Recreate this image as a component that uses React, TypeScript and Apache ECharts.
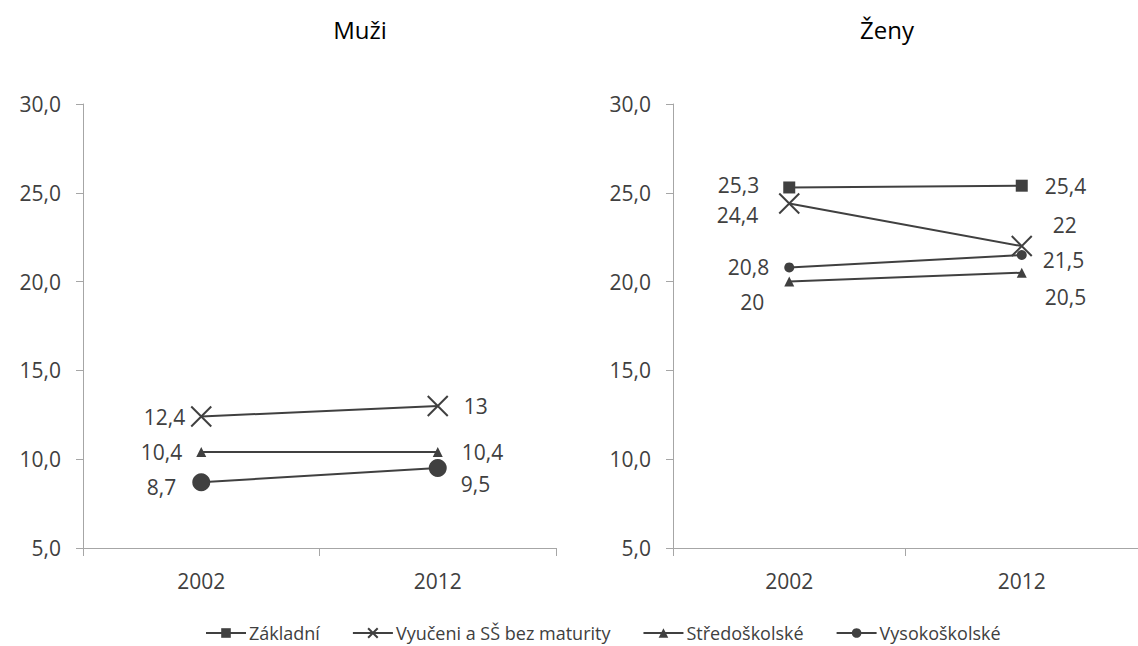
import React, { useEffect, useRef } from "react";
import * as echarts from "echarts";

const years = ["2002", "2012"];
const yTicks = { min: 5, max: 30, interval: 5 };
const seriesNames = ["Základní", "Vyučeni a SŠ bez maturity", "Středoškolské", "Vysokoškolské"];
const panelTitles = ["Muži", "Ženy"];

const menVyuceni = [12.4, 13];
const menStred = [10.4, 10.4];
const menVysoko = [8.7, 9.5];

const womenZakladni = [25.3, 25.4];
const womenVyuceni = [24.4, 22];
const womenStred = [20, 20.5];
const womenVysoko = [20.8, 21.5];

const DARK = "#404040";
const AXIS = "#a6a6a6";
const FONT = "Open Sans";
const X_SYMBOL = "path://M0,0L10,10M10,0L0,10";

const fmt = (v: number) => String(v).replace(".", ",");

function pts(values: number[], offs: [number, number][]) {
  return values.map((v, i) => ({
    value: v,
    label: {
      position: i === 0 ? "left" : "right",
      offset: offs[i],
    },
  }));
}

function mkSeries(
  name: string,
  values: number[],
  offs: [number, number][],
  panel: number,
  symbol: string,
  symbolSize: number
) {
  const isX = symbol === X_SYMBOL;
  return {
    type: "line",
    name,
    xAxisIndex: panel,
    yAxisIndex: panel,
    data: pts(values, offs),
    symbol,
    symbolSize,
    showAllSymbol: true,
    lineStyle: { color: DARK, width: 2 },
    itemStyle: {
      color: DARK,
      borderColor: DARK,
      borderWidth: isX ? 2 : 0,
      opacity: 1,
    },
    label: {
      show: true,
      color: DARK,
      fontSize: 21,
      fontFamily: FONT,
      formatter: (p: any) => fmt(p.value),
    },
    emphasis: { disabled: true },
  };
}

export default function App() {
  const ref = useRef<HTMLDivElement>(null);
  useEffect(() => {
    if (!ref.current) return;
    const chart = echarts.init(ref.current, undefined, { renderer: "svg" });
    const yAxis = (gi: number) => ({
      type: "value",
      gridIndex: gi,
      min: yTicks.min,
      max: yTicks.max,
      interval: yTicks.interval,
      axisLine: { show: true, lineStyle: { color: AXIS, width: 1 } },
      axisTick: { show: true, length: 7, lineStyle: { color: AXIS } },
      splitLine: { show: false },
      axisLabel: {
        color: DARK,
        fontSize: 21,
        fontFamily: FONT,
        margin: 22,
        formatter: (v: number) => v.toFixed(1).replace(".", ","),
      },
    });
    const xAxis = (gi: number) => ({
      type: "category",
      gridIndex: gi,
      data: years,
      boundaryGap: true,
      axisLine: { show: true, onZero: false, lineStyle: { color: AXIS, width: 1 } },
      axisTick: { show: true, length: 8, lineStyle: { color: AXIS } },
      axisLabel: { color: DARK, fontSize: 21, fontFamily: FONT, margin: 22 },
      splitLine: { show: false },
    });
    const titleStyle = { color: "#000", fontSize: 24, fontWeight: "normal", fontFamily: FONT };
    chart.setOption({
      animation: false,
      backgroundColor: "#ffffff",
      title: [
        { text: panelTitles[0], left: 355, top: 12, textAlign: "center", textStyle: titleStyle },
        { text: panelTitles[1], left: 882, top: 12, textAlign: "center", textStyle: titleStyle },
      ],
      grid: [
        { left: 83, top: 104, width: 473, height: 444 },
        { left: 673, top: 104, width: 472, height: 444 },
      ],
      xAxis: [xAxis(0), xAxis(1)],
      yAxis: [yAxis(0), yAxis(1)],
      legend: {
        data: seriesNames,
        left: 205,
        top: 623,
        padding: 0,
        itemWidth: 40,
        itemHeight: 12,
        itemGap: 32,
        textStyle: {
          color: DARK,
          fontSize: 18,
          lineHeight: 20,
          fontFamily: FONT,
          padding: [0, 0, 0, -2],
        },
      },
      series: [
        mkSeries(seriesNames[1], menVyuceni, [[0, 0], [10, 0]], 0, X_SYMBOL, 20),
        mkSeries(seriesNames[2], menStred, [[-9, 0], [14, 0]], 0, "triangle", 10),
        mkSeries(seriesNames[3], menVysoko, [[-11, 5], [9, 16]], 0, "circle", 18),
        mkSeries(seriesNames[0], womenZakladni, [[-19, -2], [12, 0]], 1, "rect", 12),
        mkSeries(seriesNames[1], womenVyuceni, [[-15, 12], [15, -21]], 1, X_SYMBOL, 20),
        mkSeries(seriesNames[2], womenStred, [[-15, 20], [13, 24]], 1, "triangle", 10),
        mkSeries(seriesNames[3], womenVysoko, [[-10, 0], [11, 5]], 1, "circle", 10),
      ],
    });
    return () => chart.dispose();
  }, []);
  return (
    <div
      ref={ref}
      style={{ position: "fixed", left: 0, top: 0, width: 1138, height: 646, background: "#fff" }}
    />
  );
}
